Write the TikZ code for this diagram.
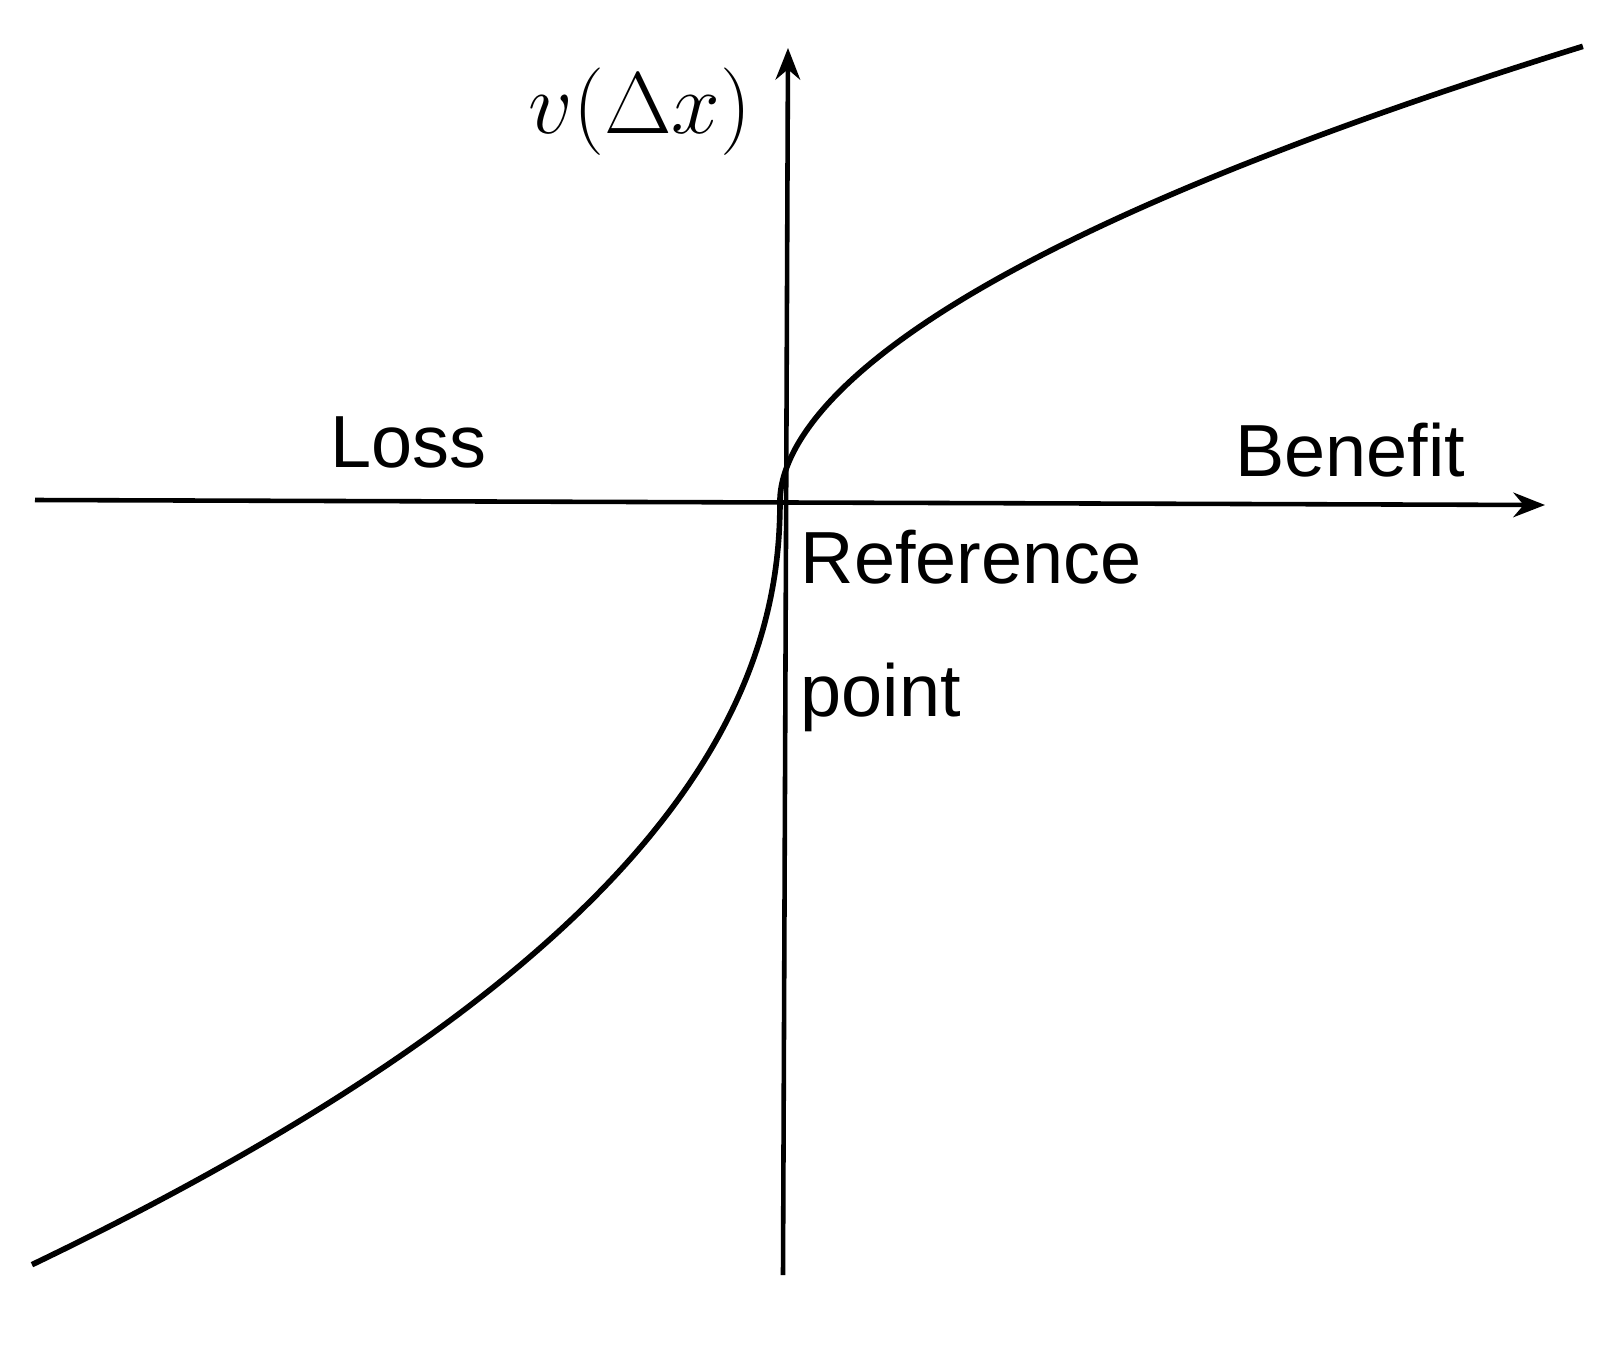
\documentclass[tikz,border=0pt]{standalone}
\usepackage{fontspec}
\setmainfont{Liberation Sans}
\usetikzlibrary{arrows.meta}
\begin{document}
\begin{tikzpicture}[x=0.01cm,y=-0.01cm,
  axis/.style={line width=1.3pt,-{Stealth[length=9pt,width=7pt]}},
  curve/.style={line width=1.6pt},
  lbl/.style={font=\fontsize{21}{25}\selectfont,inner sep=0pt}]
\useasboundingbox (0,0) rectangle (1608,1345);
\coordinate (o) at (780,500);
\coordinate (xl) at (35,500);
\coordinate (xr) at (1545,505);
\coordinate (yb) at (783,1275);
\coordinate (yt) at (788,48);
\draw[axis] (xl) -- (xr);
\draw[axis] (yb) -- (yt);
\draw[curve] plot[domain=0:1,samples=120,variable=\t] ({780+805*\t*\t},{500-11.46*(805*\t*\t)^0.55});
\draw[curve] plot[domain=0:1,samples=120,variable=\t] ({780-750*\t*\t},{500+34.1*(750*\t*\t)^0.47});
\node[lbl,font=\fontsize{24}{28}\selectfont\rmfamily] (v) at (640,112) {$v(\Delta x)$};
\node[lbl] (loss) at (408,442) {Loss};
\node[lbl] (ben) at (1350,450) {Benefit};
\node[lbl,anchor=west] (ref) at (800,557) {Reference};
\node[lbl,anchor=west] (pt) at (800,697) {point};
\end{tikzpicture}
\end{document}
